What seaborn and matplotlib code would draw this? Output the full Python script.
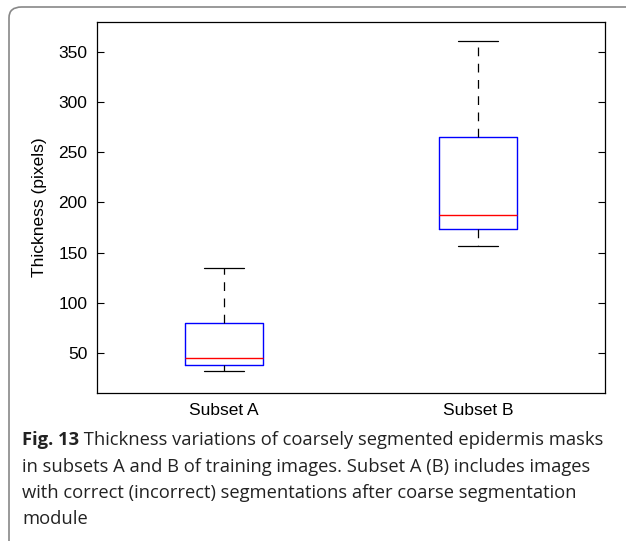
import numpy as np
import pandas as pd
import matplotlib
matplotlib.use("Agg")
import matplotlib.pyplot as plt
import seaborn as sns
from matplotlib.patches import FancyBboxPatch

# five-number summaries (min, q1, median, q3, max)
subsets = ["Subset A", "Subset B"]
subset_a = [32, 38, 45, 80, 135]
subset_b = [157, 174, 188, 265, 361]
y_ticks = [50, 100, 150, 200, 250, 300, 350]

caption_bold = "Fig. 13"
caption_lines = [
    " Thickness variations of coarsely segmented epidermis masks",
    "in subsets A and B of training images. Subset A (B) includes images",
    "with correct (incorrect) segmentations after coarse segmentation",
    "module",
]

df = pd.DataFrame({
    "group": [subsets[0]] * len(subset_a) + [subsets[1]] * len(subset_b),
    "value": subset_a + subset_b,
})

sns.set_theme(style="white")
plt.rcParams["font.family"] = ["Liberation Sans", "DejaVu Sans"]
plt.rcParams["text.color"] = "black"
plt.rcParams["axes.labelcolor"] = "black"
plt.rcParams["xtick.color"] = "black"
plt.rcParams["ytick.color"] = "black"

W, H = 626, 541
fig = plt.figure(figsize=(W / 100, H / 100), dpi=100)
ax = fig.add_axes([97 / W, 1 - 393 / H, (605 - 97) / W, (393 - 22) / H])

sns.boxplot(
    data=df, x="group", y="value", ax=ax, width=0.31, fill=False,
    whis=1.5, showfliers=False, linewidth=1.0, linecolor="#0000ff",
    boxprops=dict(color="#0000ff", linewidth=1.0),
    medianprops=dict(color="#ff0000", linewidth=1.0),
    whiskerprops=dict(color="black", linestyle=(0, (7, 6)), linewidth=0.9),
    capprops=dict(color="black", linewidth=0.9),
)
for p in ax.patches:
    p.set_edgecolor("#0000ff")
    p.set_facecolor("none")

ax.set_xlim(-0.5, 1.5)
ax.set_ylim(10, 380)
ax.set_yticks(y_ticks)
ax.set_xlabel("")
ax.set_ylabel("Thickness (pixels)", fontsize=12.5, labelpad=8)
ax.tick_params(axis="y", which="both", direction="in", length=5, width=0.8,
               left=True, right=True, labelsize=12.5, colors="black", pad=7)
ax.tick_params(axis="x", length=0, labelsize=12.5, pad=7, colors="black")
for s in ax.spines.values():
    s.set_visible(True)
    s.set_color("black")
    s.set_linewidth(0.9)

# frame
frame = FancyBboxPatch((9 / W, -0.05), 1.2, 1 - 7 / H + 0.05,
                       boxstyle="round,pad=0,rounding_size=0.02",
                       transform=fig.transFigure, fill=False,
                       edgecolor="#888888", linewidth=1.2, clip_on=False)
fig.add_artist(frame)

fs = 13.2
x0 = 22 / W
ys = [440, 467, 493, 519]
cap_font = ["Open Sans", "DejaVu Sans"]
tb = fig.text(x0, 1 - ys[0] / H, caption_bold, fontsize=fs, fontweight="bold",
              family=cap_font, va="center", ha="left", color="#222222")
fig.canvas.draw()
bb = tb.get_window_extent(fig.canvas.get_renderer())
fig.text(bb.x1 / W, 1 - ys[0] / H, caption_lines[0], fontsize=fs,
         family=cap_font, va="center", ha="left", color="#222222")
for y, t in zip(ys[1:], caption_lines[1:]):
    fig.text(x0, 1 - y / H, t, fontsize=fs, family=cap_font,
             va="center", ha="left", color="#222222")

fig.savefig("out.png", dpi=100, facecolor="white")
